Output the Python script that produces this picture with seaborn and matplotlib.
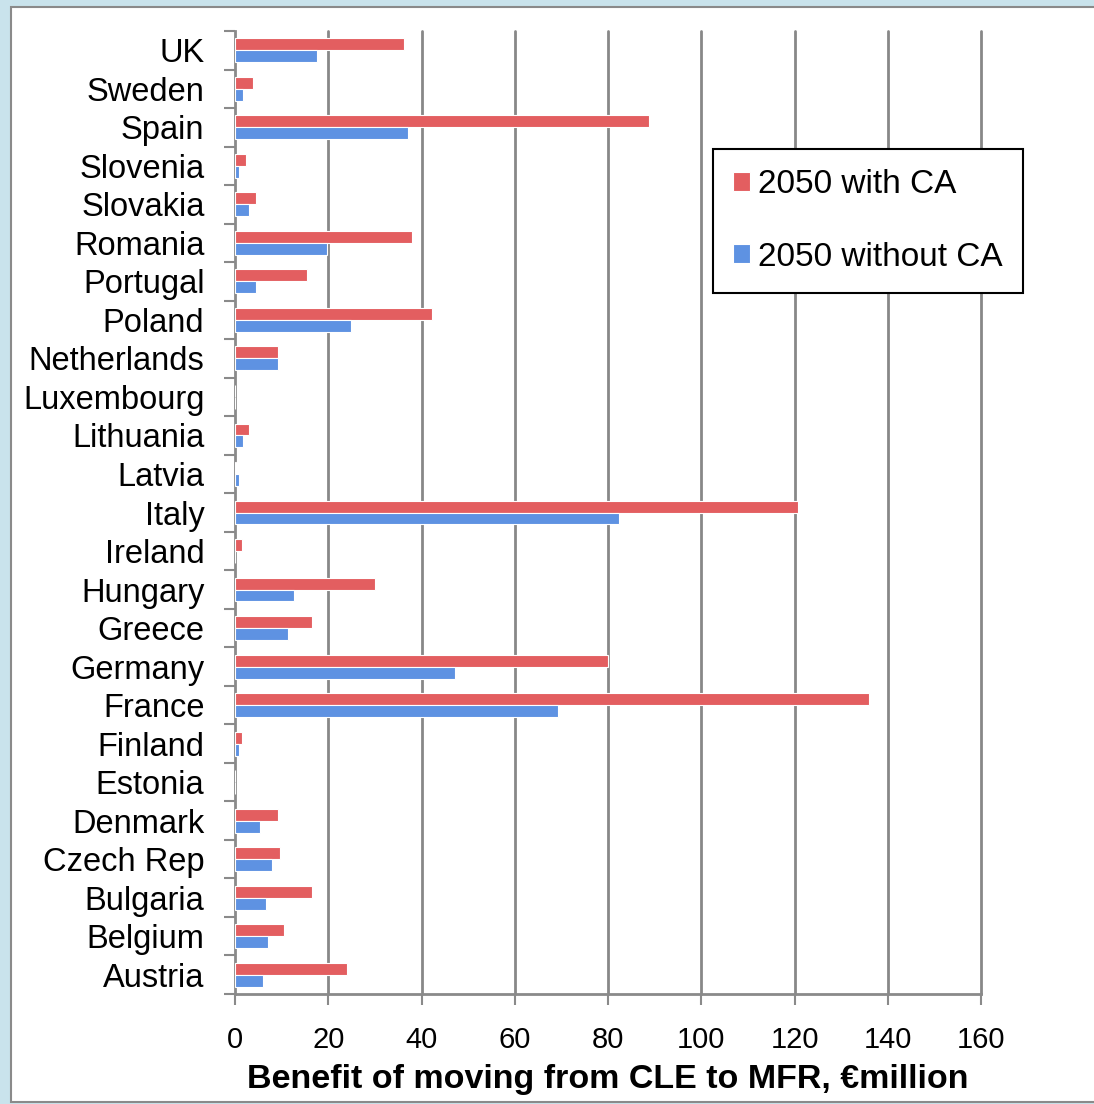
import matplotlib
matplotlib.use("Agg")
import matplotlib.pyplot as plt
import matplotlib.patches as mpatches
from matplotlib.ticker import FixedLocator
import numpy as np
import pandas as pd
import seaborn as sns

# Laender von oben (UK) nach unten (Austria)
countries = ["UK", "Sweden", "Spain", "Slovenia", "Slovakia", "Romania", "Portugal",
             "Poland", "Netherlands", "Luxembourg", "Lithuania", "Latvia", "Italy",
             "Ireland", "Hungary", "Greece", "Germany", "France", "Finland", "Estonia",
             "Denmark", "Czech Rep", "Bulgaria", "Belgium", "Austria"]

with_ca = [36.2, 3.9, 88.8, 2.3, 4.4, 38.0, 15.4, 42.2, 9.3, 0.0, 3.1, 0.2, 120.7,
           1.4, 30.1, 16.6, 79.9, 135.9, 1.4, 0.0, 9.3, 9.6, 16.6, 10.6, 24.0]
without_ca = [17.5, 1.8, 37.1, 0.9, 3.1, 19.8, 4.4, 24.9, 9.3, 0.0, 1.8, 0.8, 82.4,
              0.0, 12.6, 11.4, 47.1, 69.3, 0.9, 0.0, 5.3, 7.9, 6.6, 7.1, 6.1]

series_names = ["2050 with CA", "2050 without CA"]
series_colors = ["#E35E60", "#5E92E2"]
x_ticks = [0, 20, 40, 60, 80, 100, 120, 140, 160]

df = pd.DataFrame({
    "country": countries * 2,
    "value": with_ca + without_ca,
    "series": [series_names[0]] * len(countries) + [series_names[1]] * len(countries),
})

sns.set_style("white")
plt.rcParams["font.family"] = ["Liberation Sans", "DejaVu Sans"]
plt.rcParams["text.color"] = "black"

fig = plt.figure(figsize=(10.94, 11.04), dpi=100, facecolor="#C9E3EC")
# weisses Panel mit grauem Rand (hinter den Achsen)
panel = mpatches.Rectangle((11 / 1094, 1 - 1102 / 1104), 1.1, (1102 - 7) / 1104,
                           transform=fig.transFigure, facecolor="white",
                           edgecolor="#8a8a8a", linewidth=1.5, zorder=-10)
fig.patches.append(panel)

ax = fig.add_axes([235 / 1094, 1 - 994 / 1104, (981 - 235) / 1094, (994 - 31) / 1104])
ax.set_facecolor("none")
ax.set_zorder(5)

sns.barplot(data=df, y="country", x="value", hue="series", order=countries,
            hue_order=series_names, palette=series_colors, orient="h",
            width=0.62, gap=0, saturation=1, linewidth=0.8,
            edgecolor="white", ax=ax, zorder=3)

ax.set_xlim(0, 160)
ax.set_ylim(len(countries) - 0.5, -0.5)
ax.set_xticks(x_ticks)
ax.set_xticklabels([str(t) for t in x_ticks], fontsize=21)

for t in x_ticks[1:]:
    ax.axvline(t, color="#888888", linewidth=2, zorder=1, clip_on=False)

ax.yaxis.set_minor_locator(FixedLocator(np.arange(-0.5, len(countries), 1)))
ax.tick_params(axis="y", which="major", length=0, pad=22, labelsize=23.5,
               labelcolor="black")
ax.tick_params(axis="y", which="minor", length=8, width=1.5, color="#8a8a8a", left=True)
ax.tick_params(axis="x", which="major", length=8, width=1.5, color="#8a8a8a",
               bottom=True, pad=15, labelcolor="black")

for side in ["top", "right"]:
    ax.spines[side].set_visible(False)
for side in ["left", "bottom"]:
    ax.spines[side].set_color("#8a8a8a")
    ax.spines[side].set_linewidth(2)

ax.set_ylabel("")
ax.set_xlabel("Benefit of moving from CLE to MFR, \u20acmillion", fontsize=24.5,
              fontweight="bold", labelpad=7, color="black")

ax.legend(loc="upper left", bbox_to_anchor=(713 / 1094, 1 - 149 / 1104),
          bbox_transform=fig.transFigure, borderaxespad=0, fontsize=24,
          frameon=True, fancybox=False, edgecolor="black", framealpha=1,
          handlelength=0.5, handleheight=0.5, handletextpad=0.25,
          labelspacing=1.25, borderpad=0.6)
ax.get_legend().get_frame().set_linewidth(1.5)

fig.savefig("out.png", dpi=100, facecolor=fig.get_facecolor())
